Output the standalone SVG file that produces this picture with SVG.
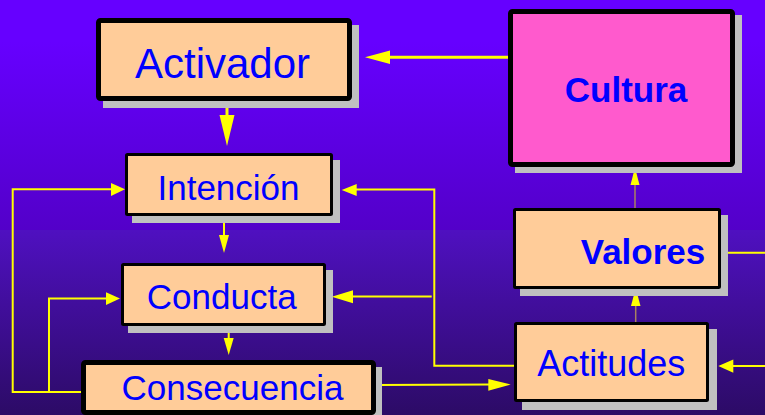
<svg xmlns="http://www.w3.org/2000/svg" width="765" height="415" viewBox="0 0 765 415">
<defs>
<linearGradient id="bg" x1="0" y1="0" x2="0" y2="1">
<stop offset="0" stop-color="#6600FF"/>
<stop offset="0.1" stop-color="#6600FF"/>
<stop offset="0.553" stop-color="#5300C9"/>
<stop offset="0.555" stop-color="#4F10C0"/>
<stop offset="1" stop-color="#2C0B66"/>
</linearGradient>
<style>
.sh{fill:#C0C0C0}
.bx{fill:#FFCC99;stroke:#000}
.thick{stroke-width:5}
.thin{stroke-width:3}
.pink{fill:#FF5ACD}
.t{font-family:"Liberation Sans",Arial,sans-serif;fill:#0000FF;text-anchor:middle}
.b{font-weight:bold}
.ln{fill:none;stroke:#FFFF00;stroke-width:2}
.ln3{fill:none;stroke:#FFFF00;stroke-width:3}
.tan{fill:none;stroke:#A88060;stroke-width:1.5}
.hd{fill:#FFFF00}
</style>
</defs>
<rect x="0" y="0" width="765" height="415" fill="url(#bg)"/>

<g id="connectors">
<line class="ln3" x1="227" y1="101" x2="227" y2="117"/>
<polygon class="hd" points="219.5,115 234.5,115 227,146"/>
<line class="ln3" x1="508" y1="57.3" x2="388" y2="57.3"/>
<polygon class="hd" points="365,57.3 390,50.5 390,64"/>
<line class="ln" x1="224" y1="223" x2="224" y2="237"/>
<polygon class="hd" points="219,235 229,235 224,253"/>
<line class="ln" x1="228.7" y1="333" x2="228.7" y2="340"/>
<polygon class="hd" points="223.7,338 233.7,338 228.7,355"/>
<polyline class="ln" points="81,392 12.7,392 12.7,189.3 112,189.3"/>
<polygon class="hd" points="125,189.3 111,183 111,196"/>
<polyline class="ln" points="49,392 49,298.5 107,298.5"/>
<polygon class="hd" points="120,298.5 106,292.3 106,305"/>
<polyline class="ln" points="514,365.7 434.3,365.7 434.3,189.5 355,189.5"/>
<polygon class="hd" points="341.7,190 356.7,184 356.7,196"/>
<line class="ln" x1="431.7" y1="296.6" x2="351" y2="296.6"/>
<polygon class="hd" points="331.7,296.7 353,290.3 353,303.3"/>
<line class="ln" x1="376" y1="385" x2="490" y2="384.5"/>
<polygon class="hd" points="510.7,384.5 488.3,379 488.3,390.7"/>
<line class="tan" x1="635" y1="208" x2="635" y2="183"/>
<polygon class="hd" points="635,167.5 630.5,185 639.5,185"/>
<line class="tan" x1="635.7" y1="322" x2="635.7" y2="304"/>
<polygon class="hd" points="635.7,288 631,306 640.5,306"/>
<line class="ln" x1="765" y1="366" x2="731" y2="366"/>
<polygon class="hd" points="718.3,366 733.3,359.5 733.3,372.7"/>
<line class="ln" x1="728" y1="252.7" x2="765" y2="252.7"/>
</g>

<g id="activador">
<rect class="sh" x="103" y="25" width="256" height="83"/>
<rect class="bx thick" x="98.5" y="20.5" width="251" height="78" rx="2"/>
<text class="t" x="222.5" y="78" font-size="42">Activador</text>
</g>
<g id="cultura">
<rect class="sh" x="515" y="15" width="227" height="158"/>
<rect class="pink thick" stroke="#000" x="510.5" y="11.5" width="222" height="153" rx="2"/>
<text class="t b" x="626" y="102" font-size="35">Cultura</text>
</g>
<g id="intencion">
<rect class="sh" x="132" y="160" width="208" height="63"/>
<rect class="bx thin" x="126.5" y="154.5" width="205" height="60" rx="1"/>
<text class="t" x="228.5" y="200" font-size="35">Intención</text>
</g>
<g id="conducta">
<rect class="sh" x="128" y="270" width="205" height="63"/>
<rect class="bx thin" x="122.5" y="264.5" width="202" height="60" rx="1"/>
<text class="t" x="221.7" y="308.7" font-size="35">Conducta</text>
</g>
<g id="valores">
<rect class="sh" x="520" y="215" width="208" height="81"/>
<rect class="bx thin" x="514.5" y="209.5" width="205" height="78" rx="1"/>
<text class="t b" x="643" y="264" font-size="35">Valores</text>
</g>
<g id="actitudes">
<rect class="sh" x="522" y="329" width="195" height="81"/>
<rect class="bx thin" x="515.5" y="323.5" width="192" height="77" rx="1"/>
<text class="t" x="611.3" y="376" font-size="36">Actitudes</text>
</g>
<g id="consecuencia">
<rect class="sh" x="88" y="367" width="294" height="55"/>
<rect class="bx thick" x="83.5" y="362.5" width="290" height="50" rx="2"/>
<text class="t" x="232.5" y="400" font-size="35">Consecuencia</text>
</g>
</svg>
